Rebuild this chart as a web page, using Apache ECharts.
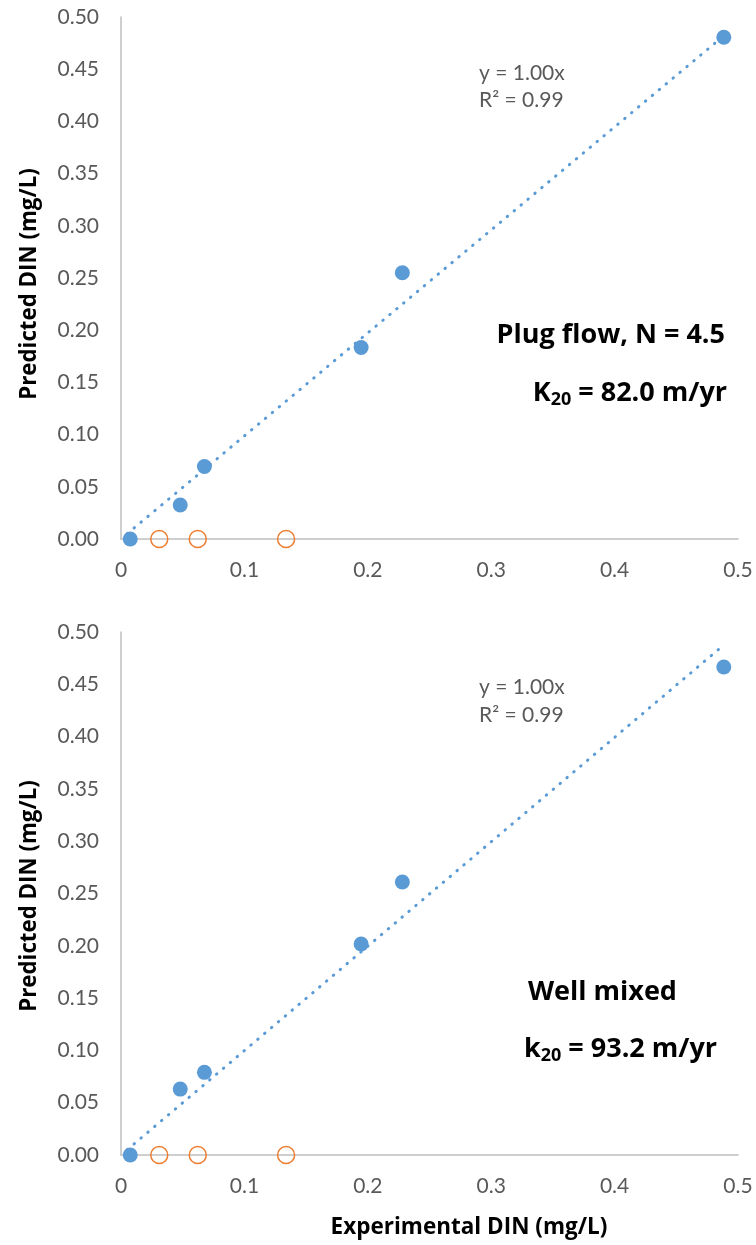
<!DOCTYPE html>
<html><head><meta charset="utf-8">
<script src="https://cdn.jsdelivr.net/npm/echarts@6/dist/echarts.min.js"></script>
<style>html,body{margin:0;padding:0;background:#fff}#c{width:756px;height:1245px}</style>
</head><body><div id="c"></div>
<script>
// ---- data ----
const xTicks = ['0','0.1','0.2','0.3','0.4','0.5'];
const yTicks = ['0.00','0.05','0.10','0.15','0.20','0.25','0.30','0.35','0.40','0.45','0.50'];
const plugExp  = [0.0075, 0.048, 0.0676, 0.1946, 0.228, 0.4885];
const plugPred = [0.000, 0.0326, 0.0695, 0.1834, 0.255, 0.4806];
const plugExcludedExp  = [0.031, 0.0622, 0.1338];
const plugExcludedPred = [0, 0, 0];
const plugTrend = [[0.005, 0.005], [0.4885, 0.482]];

const mixExp  = [0.0075, 0.048, 0.0676, 0.1946, 0.228, 0.4885];
const mixPred = [0.000, 0.063, 0.079, 0.2017, 0.261, 0.4665];
const mixExcludedExp  = [0.031, 0.0622, 0.1338];
const mixExcludedPred = [0, 0, 0];
const mixTrend = [[0.005, 0.005], [0.4844, 0.4835]];

const pairs = (xs, ys) => xs.map((x, i) => [x, ys[i]]);

const FONT = 'Lato, "Open Sans", sans-serif';
const BFONT = '"Open Sans", Lato, sans-serif';
const GRAY = '#595959';
const BLUE = '#5B9BD5';
const ORANGE = '#ED7D31';

function xAxis(gi) {
  return {
    type: 'value', gridIndex: gi, min: 0, max: 0.5, interval: 0.1,
    axisLine: { show: true, lineStyle: { color: '#BFBFBF', width: 1.5 } },
    axisTick: { show: false }, splitLine: { show: false },
    axisLabel: { color: GRAY, fontFamily: FONT, fontSize: 21, margin: 21,
      formatter: v => xTicks[Math.round(v * 10)] }
  };
}
function yAxis(gi) {
  return {
    type: 'value', gridIndex: gi, min: 0, max: 0.5, interval: 0.05,
    axisLine: { show: true, lineStyle: { color: '#BFBFBF', width: 1.5 } },
    axisTick: { show: false }, splitLine: { show: false },
    axisLabel: { color: GRAY, fontFamily: FONT, fontSize: 21, margin: 22,
      formatter: v => yTicks[Math.round(v * 20)] }
  };
}
function seriesSet(gi, exp, pred, exExp, exPred, trend) {
  return [
    { type: 'line', xAxisIndex: gi, yAxisIndex: gi, data: trend, symbol: 'none', silent: true,
      lineStyle: { color: BLUE, width: 3, type: [0.5, 8.5], cap: 'round' }, z: 1 },
    { type: 'scatter', xAxisIndex: gi, yAxisIndex: gi, data: pairs(exp, pred), symbolSize: 15,
      itemStyle: { color: BLUE, opacity: 1 }, z: 3 },
    { type: 'scatter', xAxisIndex: gi, yAxisIndex: gi, data: pairs(exExp, exPred), symbolSize: 17,
      itemStyle: { color: 'rgba(0,0,0,0)', borderColor: ORANGE, borderWidth: 1.5, opacity: 1 }, z: 3 }
  ];
}

const txt = (x, y, text, opts) => ({ type: 'text', x, y, z: 10,
  style: Object.assign({ text, fontFamily: FONT, fill: GRAY, fontSize: 21, verticalAlign: 'middle' }, opts || {}) });

const richStyle = {
  m: { fontFamily: BFONT, fontSize: 27, fontWeight: 'bold', fill: '#000', lineHeight: 32, verticalAlign: 'middle' },
  s: { fontFamily: BFONT, fontSize: 18, fontWeight: 'bold', fill: '#000', lineHeight: 32, verticalAlign: 'bottom' }
};
const bold = (size, extra) => Object.assign({ fill: '#000', fontWeight: 'bold', fontFamily: BFONT, fontSize: size }, extra || {});

const chart = echarts.init(document.getElementById('c'), null, { renderer: 'canvas' });
chart.setOption({
  animation: false,
  backgroundColor: '#fff',
  grid: [
    { left: 121, top: 17, width: 617, height: 522 },
    { left: 121, top: 632, width: 617, height: 523 }
  ],
  xAxis: [xAxis(0), xAxis(1)],
  yAxis: [yAxis(0), yAxis(1)],
  series: [].concat(
    seriesSet(0, plugExp, plugPred, plugExcludedExp, plugExcludedPred, plugTrend),
    seriesSet(1, mixExp, mixPred, mixExcludedExp, mixExcludedPred, mixTrend)
  ),
  graphic: [
    txt(479, 73, 'y = 1.00x'),
    txt(479, 100, 'R² = 0.99'),
    txt(479, 687, 'y = 1.00x'),
    txt(479, 715, 'R² = 0.99'),
    txt(725, 335, 'Plug flow, N = 4.5', bold(27, { align: 'right' })),
    { type: 'text', x: 727, y: 393, z: 10, style: { text: '{m|K}{s|20}{m| = 82.0 m/yr}', rich: richStyle, align: 'right', verticalAlign: 'middle' } },
    txt(528, 992, 'Well mixed', bold(27)),
    { type: 'text', x: 524, y: 1049, z: 10, style: { text: '{m|k}{s|20}{m| = 93.2 m/yr}', rich: richStyle, align: 'left', verticalAlign: 'middle' } },
    { type: 'text', x: 30, y: 284, rotation: Math.PI / 2, z: 10,
      style: bold(22.3, { text: 'Predicted DIN (mg/L)', align: 'center', verticalAlign: 'middle' }) },
    { type: 'text', x: 30, y: 896, rotation: Math.PI / 2, z: 10,
      style: bold(22.3, { text: 'Predicted DIN (mg/L)', align: 'center', verticalAlign: 'middle' }) },
    txt(469, 1228, 'Experimental DIN (mg/L)', bold(22.5, { align: 'center' }))
  ]
});
</script></body></html>
